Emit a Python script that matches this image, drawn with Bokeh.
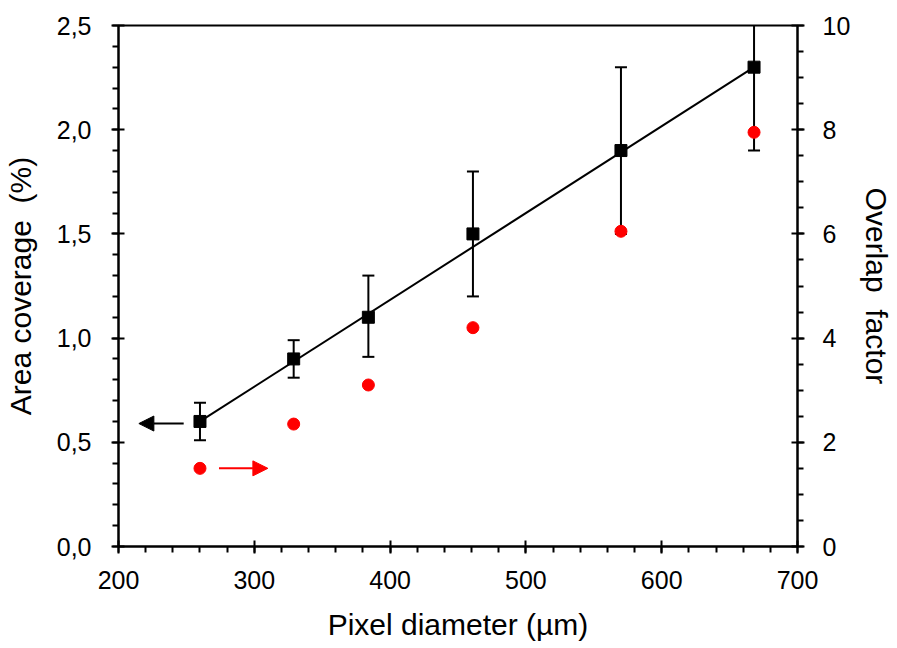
from bokeh.plotting import figure
from bokeh.models import (Range1d, LinearAxis, CustomJSTickFormatter, Arrow,
                          NormalHead, SingleIntervalTicker)
from bokeh.embed import file_html
from bokeh.resources import INLINE

# ---- data ----
diameter = [260, 329, 384, 461, 570, 668]            # Pixel diameter (µm)
coverage = [0.6, 0.9, 1.1, 1.5, 1.9, 2.3]            # Area coverage (%)
coverage_err_lo = [0.09, 0.09, 0.19, 0.3, 0.4, 0.4]
coverage_err_hi = [0.09, 0.09, 0.2, 0.3, 0.4, 0.4]
overlap = [1.5, 2.35, 3.1, 4.2, 6.05, 7.95]          # Overlap factor (right axis)
fit_x = [260, 668]
fit_y = [0.6, 2.3]
# arrows pointing to the axis each series belongs to
black_arrow_x = [248, 215]
black_arrow_y = 0.59
red_arrow_x = [274, 310]
red_arrow_y = 1.5

FONT = "Liberation Sans"

p = figure(width=897, height=648, x_range=Range1d(200, 700), y_range=Range1d(0, 2.5),
           output_backend="svg", toolbar_location=None,
           min_border_left=117, min_border_right=100, min_border_top=25, min_border_bottom=102)
p.extra_y_ranges = {"overlap": Range1d(0, 10)}
p.xgrid.visible = False
p.ygrid.visible = False
p.outline_line_color = "black"
p.outline_line_width = 2
p.outline_line_alpha = 1
p.background_fill_color = "white"
p.border_fill_color = "white"

right_axis = LinearAxis(y_range_name="overlap")
p.add_layout(right_axis, "right")

def style(ax, label, standoff, title_standoff):
    ax.axis_label = label
    ax.axis_label_text_font = FONT
    ax.axis_label_text_font_size = "30px"
    ax.axis_label_text_font_style = "normal"
    ax.axis_label_text_color = "black"
    ax.axis_label_standoff = title_standoff
    ax.major_label_text_font = FONT
    ax.major_label_text_font_size = "25px"
    ax.major_label_text_color = "black"
    ax.major_label_standoff = standoff
    ax.axis_line_color = "black"
    ax.axis_line_width = 2
    ax.major_tick_line_color = "black"
    ax.major_tick_line_width = 2
    ax.minor_tick_line_color = "black"
    ax.minor_tick_line_width = 2
    ax.major_tick_in = 6
    ax.major_tick_out = 7
    ax.minor_tick_in = 0
    ax.minor_tick_out = 6

xax = p.xaxis[0]
yax = p.yaxis[0]
style(xax, "Pixel diameter (µm)", 17, 16)
style(yax, "Area coverage\u00a0 (%)", 20, 17)
style(right_axis, "Overlap\u00a0 factor", 18, 7)

xax.ticker = SingleIntervalTicker(interval=100, num_minor_ticks=5)
yax.ticker = SingleIntervalTicker(interval=0.5, num_minor_ticks=5)
right_axis.ticker = SingleIntervalTicker(interval=2, num_minor_ticks=4)
yax.formatter = CustomJSTickFormatter(code="return tick.toFixed(1).replace('.', ',');")
right_axis.formatter = CustomJSTickFormatter(code="return tick.toFixed(0);")

# fit line
p.line(fit_x, fit_y, line_color="black", line_width=2)

# error bars
lo = [c - e for c, e in zip(coverage, coverage_err_lo)]
hi = [c + e for c, e in zip(coverage, coverage_err_hi)]
p.segment(x0=diameter, y0=lo, x1=diameter, y1=hi, line_color="black", line_width=2)
p.scatter(diameter, lo, marker="dash", size=12, line_color="black", line_width=2)
p.scatter(diameter, hi, marker="dash", size=12, line_color="black", line_width=2)

# area coverage squares
p.scatter(diameter, coverage, marker="square", size=12, fill_color="black", line_color="black")

# overlap factor circles
p.scatter(diameter, overlap, marker="circle", size=12, fill_color="red", line_color="red",
          y_range_name="overlap")

# arrows
p.add_layout(Arrow(end=NormalHead(size=15, fill_color="black", line_color="black"),
                   x_start=black_arrow_x[0], y_start=black_arrow_y,
                   x_end=black_arrow_x[1], y_end=black_arrow_y,
                   line_color="black", line_width=2))
p.add_layout(Arrow(end=NormalHead(size=15, fill_color="red", line_color="red"),
                   x_start=red_arrow_x[0], y_start=red_arrow_y,
                   x_end=red_arrow_x[1], y_end=red_arrow_y,
                   line_color="red", line_width=2, y_range_name="overlap"))

open("out.html", "w").write(file_html(p, INLINE))
